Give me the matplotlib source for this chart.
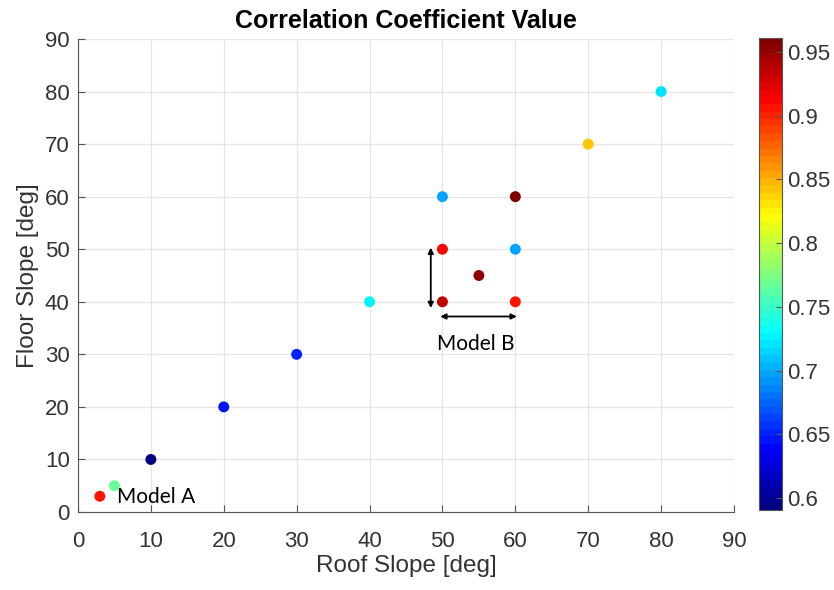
import matplotlib
matplotlib.use("Agg")
import matplotlib.pyplot as plt
from matplotlib.colors import LinearSegmentedColormap
import numpy as np

roof_slope = [3, 5, 10, 20, 30, 40, 50, 60, 50, 55, 50, 60, 60, 70, 80]
floor_slope = [3, 5, 10, 20, 30, 40, 40, 40, 50, 45, 60, 50, 60, 70, 80]
corr_value = [0.905, 0.77, 0.5906, 0.645, 0.652, 0.728, 0.935, 0.905, 0.91, 0.953, 0.70, 0.70, 0.961, 0.84, 0.718]
ticks = [0, 10, 20, 30, 40, 50, 60, 70, 80, 90]
cbar_ticks = [0.6, 0.65, 0.7, 0.75, 0.8, 0.85, 0.9, 0.95]

# MATLAB style jet
matlab_jet = LinearSegmentedColormap('matlab_jet', {
    'red':   [(0, 0, 0), (3/8, 0, 0), (5/8, 1, 1), (7/8, 1, 1), (1, 0.5, 0.5)],
    'green': [(0, 0, 0), (1/8, 0, 0), (3/8, 1, 1), (5/8, 1, 1), (7/8, 0, 0), (1, 0, 0)],
    'blue':  [(0, 0.5, 0.5), (1/8, 1, 1), (3/8, 1, 1), (5/8, 0, 0), (1, 0, 0)],
}, N=64)

plt.rcParams['font.family'] = ['Liberation Sans', 'DejaVu Sans']
fig = plt.figure(figsize=(8.34, 5.90), dpi=100)
ax = fig.add_axes([0.0935, 0.1322, 0.7866, 0.8017])
cax = fig.add_axes([0.910, 0.1356, 0.0276, 0.800])

sc = ax.scatter(roof_slope, floor_slope, c=corr_value, cmap=matlab_jet, s=62,
                vmin=min(corr_value), vmax=max(corr_value), zorder=3, linewidths=0)

ax.set_xlim(0, 90)
ax.set_ylim(0, 90)
ax.set_xticks(ticks)
ax.set_yticks(ticks)
ax.grid(True, color='#e6e6e6', linewidth=1)
ax.set_axisbelow(True)
for s in ['top', 'right']:
    ax.spines[s].set_visible(False)
for s in ['left', 'bottom']:
    ax.spines[s].set_color('#555555')
ax.tick_params(direction='in', length=5, colors='#555555', labelcolor='#333333', labelsize=16)
ax.tick_params(axis='x', pad=14)
ax.tick_params(axis='y', pad=6)
ax.set_xlabel('Roof Slope [deg]', fontsize=17.5, color='#333333', labelpad=2)
ax.set_ylabel('Floor Slope [deg]', fontsize=17.5, color='#333333', labelpad=4)
ax.set_title('Correlation Coefficient Value', fontsize=18, fontweight='bold', pad=8)

# model B arrows
ax.annotate('', xy=(48.4, 50.3), xytext=(48.4, 38.8),
            arrowprops=dict(arrowstyle='<|-|>', color='black', lw=1.3, mutation_scale=8, shrinkA=0, shrinkB=0))
ax.annotate('', xy=(49.7, 37.2), xytext=(60.2, 37.2),
            arrowprops=dict(arrowstyle='<|-|>', color='black', lw=1.3, mutation_scale=8, shrinkA=0, shrinkB=0))
ax.text(54.6, 32.0, 'Model B', fontsize=15, ha='center', va='center', family=['Lato', 'DejaVu Sans'])
ax.text(10.7, 2.8, 'Model A', fontsize=15, ha='center', va='center', family=['Lato', 'DejaVu Sans'])

cb = fig.colorbar(sc, cax=cax, ticks=cbar_ticks)
cb.ax.set_yticklabels([f'{t:g}' for t in cbar_ticks])
cb.ax.tick_params(direction='in', length=4, labelsize=16, colors='#555555', labelcolor='#333333')
cb.outline.set_edgecolor('#555555')

fig.savefig('out.png', dpi=100)
